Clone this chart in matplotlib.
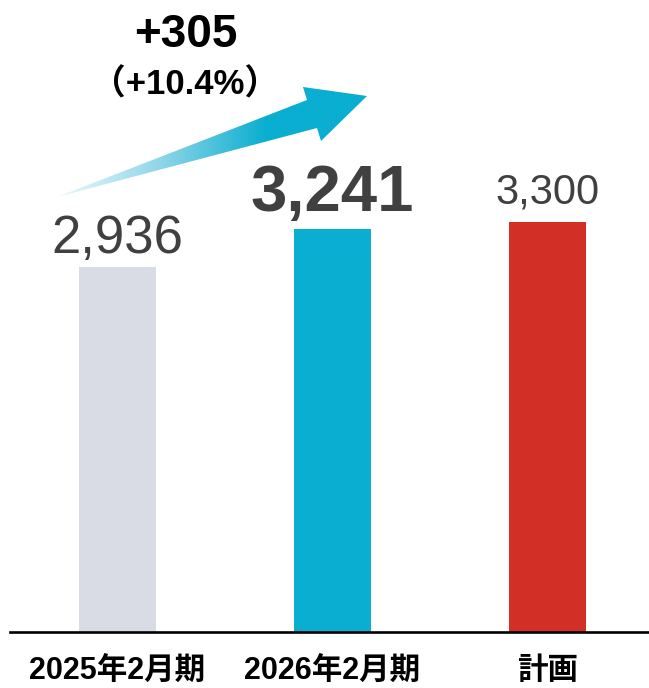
import numpy as np
import matplotlib.pyplot as plt
from matplotlib.patches import Polygon
from matplotlib.colors import LinearSegmentedColormap

# dados
periodos = ['2025年2月期', '2026年2月期', '計画']
valores = [2936, 3241, 3300]
rotulos = ['2,936', '3,241', '3,300']
cores = ['#d9dce4', '#0aaed0', '#d22f27']
aumento = '+305'
aumento_pct = '（+10.4%）'

W, H = 649, 688
fig = plt.figure(figsize=(W / 100, H / 100), dpi=100)

# eixo principal: base em y=632px, 0.12424 px por unidade
ax = fig.add_axes([10 / W, 56 / H, 639 / W, 632 / H])
x = np.arange(len(periodos))
ax.bar(x, valores, width=0.358, color=cores)
ax.set_xlim(-0.5, 2.472)
ax.set_ylim(0, 632 / 0.12424)

for s in ['top', 'left', 'right']:
    ax.spines[s].set_visible(False)
ax.spines['bottom'].set_linewidth(1.9)
ax.spines['bottom'].set_color('black')
ax.set_yticks([])
ax.set_xticks(x)
ax.set_xticklabels(periodos, family=['Liberation Sans', 'Noto Sans CJK JP'],
                   fontweight='bold', fontsize=22, va='baseline')
ax.tick_params(axis='x', length=0, pad=33.5)

# rótulos dos valores
estilos = [('normal', 38, 10), ('bold', 47, 13), ('normal', 30, 13.5)]
for i, (v, r) in enumerate(zip(valores, rotulos)):
    peso, tam, gap = estilos[i]
    ax.annotate(r, (i, v), xytext=(0, gap), textcoords='offset points',
                ha='center', va='baseline', fontsize=tam, fontweight=peso,
                color='#404040', family='Liberation Sans')

# camada de sobreposição em pixels para a seta
ov = fig.add_axes([0, 0, 1, 1])
ov.set_xlim(0, W)
ov.set_ylim(H, 0)
ov.axis('off')

seta = [(57, 197), (307, 100), (303, 87), (367, 96), (321, 141), (317, 128)]
poly = Polygon(seta, closed=True, facecolor='none', edgecolor='none')
ov.add_patch(poly)
cmap = LinearSegmentedColormap.from_list('seta', ['#eef9fc', '#8fd6e8', '#0aaed0', '#0aaed0'])
grad = np.linspace(0, 1, 256).reshape(1, -1)
img = ov.imshow(grad, cmap=cmap, extent=(55, 372, 205, 80), aspect='auto',
                interpolation='bicubic')
img.set_clip_path(poly)
ov.set_xlim(0, W)
ov.set_ylim(H, 0)

ov.text(186, 47, aumento, ha='center', va='baseline', fontsize=33,
        fontweight='bold', color='black', family='Liberation Sans')
ov.text(185, 95, aumento_pct, ha='center', va='baseline', fontsize=25,
        fontweight='bold', color='black',
        family=['Liberation Sans', 'Noto Sans CJK JP'])

fig.savefig('out.png', dpi=100)
